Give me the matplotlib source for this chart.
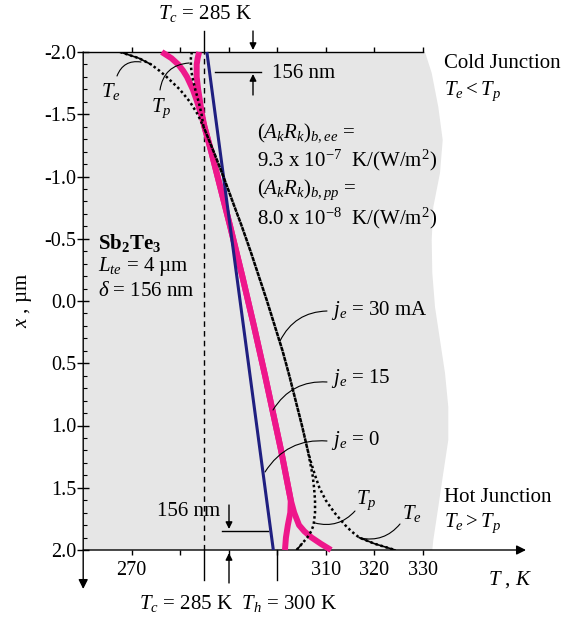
import matplotlib
matplotlib.use('Agg')
import matplotlib.pyplot as plt
import matplotlib.transforms as mtransforms
from matplotlib.patches import Polygon

# ---------------- data (x in um, T in K) ----------------
# j_e = 0 (Te = Tp)
x_j0 = [-2.0, 2.0]
T_j0 = [285.5, 299.2]

# j_e = 15 mA
x_top = [-2.0, -1.95, -1.9, -1.85, -1.8, -1.7, -1.6, -1.5]
T_te15_top = [276.2, 278.2, 279.6, 280.6, 281.4, 282.6, 283.5, 284.3]
T_tp15_top = [283.9, 283.6, 283.4, 283.4, 283.4, 283.7, 284.1, 284.5]
x_bulk15 = [-1.4, -1.2, -1.0, -0.8, -0.6, -0.4, -0.2, 0.0, 0.2, 0.4, 0.6,
            0.8, 1.0, 1.2, 1.4, 1.5, 1.6]
T_bulk15 = [285.0, 286.4, 287.7, 289.0, 290.3, 291.55, 292.8, 294.0, 295.2,
            296.35, 297.5, 298.6, 299.7, 300.8, 301.8, 302.3, 302.8]
x_te15_bot = [1.7, 1.8, 1.85, 1.9, 1.95, 2.0]
T_te15_bot = [303.5, 304.5, 305.6, 307.1, 309.0, 311.1]
x_tp15_bot = [1.7, 1.8, 1.9, 2.0]
T_tp15_bot = [302.7, 302.2, 301.8, 301.6]

# j_e = 30 mA
T_te30_top = [267.6, 271.5, 274.0, 275.7, 277.2, 279.9, 282.0, 283.6]
T_tp30_top = [282.4, 282.2, 282.2, 282.3, 282.5, 283.1, 283.8, 284.4]
x_bulk30 = [-1.4, -1.2, -1.0, -0.8, -0.6, -0.4, -0.2, 0.0, 0.2, 0.4, 0.6,
            0.8, 1.0, 1.2]
T_bulk30 = [284.8, 286.9, 288.9, 290.8, 292.7, 294.5, 296.2, 297.9, 299.5,
            301.1, 302.5, 303.8, 305.1, 306.3]
x_bot30 = [1.3, 1.4, 1.5, 1.6, 1.7, 1.8, 1.85, 1.9, 1.95, 2.0]
T_te30_bot = [307.0, 307.8, 308.7, 310.0, 311.8, 314.0, 315.3, 316.9, 320.1, 324.3]
T_tp30_bot = [306.8, 307.3, 307.6, 307.8, 307.8, 307.5, 307.0, 306.2, 305.1, 304.0]

T_c = 285
T_h = 300
x_ticks = [270, 280, 290, 300, 310, 320, 330]
x_ticklabels = ['270', '', '', '', '310', '320', '330']
y_ticks = [-2.0, -1.5, -1.0, -0.5, 0.0, 0.5, 1.0, 1.5, 2.0]
y_ticklabels = ['-2.0', '-1.5', '-1.0', '-0.5', '0.0', '0.5', '1.0', '1.5', '2.0']

# full curves
x_te15 = x_top + x_bulk15 + x_te15_bot
T_te15 = T_te15_top + T_bulk15 + T_te15_bot
x_tp15 = x_top + x_bulk15 + x_tp15_bot
T_tp15 = T_tp15_top + T_bulk15 + T_tp15_bot
x_te30 = x_top + x_bulk30 + x_bot30
T_te30 = T_te30_top + T_bulk30 + T_te30_bot
x_tp30 = x_top + x_bulk30 + x_bot30
T_tp30 = T_tp30_top + T_bulk30 + T_tp30_bot

# ---------------- style ----------------
plt.rcParams['font.family'] = ['Liberation Serif', 'DejaVu Serif']
plt.rcParams['mathtext.fontset'] = 'custom'
plt.rcParams['mathtext.rm'] = 'Liberation Serif'
plt.rcParams['mathtext.it'] = 'Liberation Serif:italic'
plt.rcParams['mathtext.bf'] = 'Liberation Serif:bold'
plt.rcParams['axes.unicode_minus'] = False
FS = 15
TFS = 14.5

W, H = 578, 620
fig = plt.figure(figsize=(W / 100, H / 100), dpi=100)
fpx = mtransforms.Affine2D().scale(1.0 / W, 1.0 / H) + fig.transFigure

L, R, TOP, BOT = 83.2, 422.7, 52.0, 550.0
ax = fig.add_axes([L / W, (H - BOT) / H, (R - L) / W, (BOT - TOP) / H])
ax.patch.set_visible(False)
ax.set_xlim(260, 330)
ax.set_ylim(2, -2)

# grey panel with wavy right edge
edge = [(425, 52), (431.7, 73), (438.3, 107), (442.7, 140), (440, 173),
        (433.3, 207), (431.7, 240), (432.3, 273), (435, 307), (440, 340),
        (445, 373), (448.3, 407), (448.3, 440), (443.3, 473), (438.3, 507),
        (433.3, 540), (432.3, 550)]
pts = [(L, H - TOP)] + [(px, H - py) for px, py in edge] + [(L, H - BOT)]
fig.add_artist(Polygon(pts, closed=True, facecolor='#e6e6e6', edgecolor='none',
                       transform=fpx, zorder=-5))

# spines / ticks
ax.spines['right'].set_visible(False)
ax.spines['bottom'].set_visible(False)
ax.spines['left'].set_visible(False)
ax.spines['top'].set_linewidth(1.0)
ax.set_xticks(x_ticks)
ax.set_xticklabels(x_ticklabels, fontsize=TFS)
ax.tick_params(axis='x', which='major', direction='out', length=3.3, width=1.0,
               top=True, bottom=True, pad=4.5)
ax.set_yticks(y_ticks)
ax.set_yticklabels(y_ticklabels, fontsize=TFS)
ax.set_yticks([v / 10 for v in range(-20, 21)], minor=True)
ax.tick_params(axis='y', which='major', direction='inout', length=8.5, width=1.0, pad=0.6)
ax.tick_params(axis='y', which='minor', direction='in', length=3.0, width=0.8)

# axis arrows
arrow_kw = dict(arrowstyle='-|>', lw=1.0, color='black', shrinkA=0, shrinkB=0,
                mutation_scale=14)
ax.annotate('', xy=(526, H - BOT), xytext=(L, H - BOT), xycoords=fpx, textcoords=fpx,
            arrowprops=arrow_kw, annotation_clip=False)
ax.annotate('', xy=(L, H - 589), xytext=(L, H - TOP), xycoords=fpx, textcoords=fpx,
            arrowprops=arrow_kw, annotation_clip=False)

# Tc / Th reference lines
xt = ax.get_xaxis_transform()
ax.axvline(T_c, color='black', lw=1.0, ls=(0, (4, 3)), zorder=1)
ax.plot([T_c, T_c], [1.0, 1.0 + 21 / 498], transform=xt, color='black', lw=1.0, clip_on=False)
ax.plot([T_c, T_c], [0.0, -30 / 498], transform=xt, color='black', lw=1.0, clip_on=False)
ax.plot([T_h, T_h], [0.0, -30 / 498], transform=xt, color='black', lw=1.0, clip_on=False)

# curves
mag = '#ee178b'
navy = '#1f1f80'
ax.plot(T_te15, x_te15, color=mag, lw=4.3, solid_capstyle='butt', zorder=3, clip_on=False)
ax.plot(T_tp15, x_tp15, color=mag, lw=4.3, solid_capstyle='butt', zorder=3, clip_on=False)
ax.plot(T_j0, x_j0, color=navy, lw=2.2, solid_capstyle='butt', zorder=4, clip_on=False)
dot = (0, (1, 1.1))
ax.plot(T_te30, x_te30, color='black', lw=1.8, ls=dot, zorder=5)
ax.plot(T_tp30, x_tp30, color='black', lw=1.8, ls=dot, zorder=5)
ax.plot(T_te30[:3], x_te30[:3], color='black', lw=1.2, zorder=5)
ax.plot(T_te30[-3:], x_te30[-3:], color='black', lw=1.2, zorder=5)
ax.plot(T_tp30[-2:], x_tp30[-2:], color='black', lw=1.2, zorder=5)


def ftext(px, py, s, **kw):
    kw.setdefault('fontsize', FS)
    kw.setdefault('va', 'center')
    fig.text(px / W, 1 - py / H, s, **kw)


def pointer(a, b, rad):
    ax.annotate('', xy=(b[0], H - b[1]), xytext=(a[0], H - a[1]), xycoords=fpx,
                textcoords=fpx, annotation_clip=False,
                arrowprops=dict(arrowstyle='-', lw=0.8, color='black', shrinkA=0,
                                shrinkB=0, connectionstyle='arc3,rad=%g' % rad))


def arrow(a, b):
    ax.annotate('', xy=(b[0], H - b[1]), xytext=(a[0], H - a[1]), xycoords=fpx,
                textcoords=fpx, annotation_clip=False,
                arrowprops=dict(arrowstyle='-|>', lw=1.0, color='black', shrinkA=0,
                                shrinkB=0, mutation_scale=10))


def hline(x0, x1, y):
    fig.add_artist(plt.Line2D([x0, x1], [H - y, H - y], transform=fpx, color='black', lw=1.0))


# 156 nm markers
arrow((253, 31), (253, 50))
arrow((253, 95), (253, 74))
hline(215, 261, 72)
ftext(272, 74, '156 nm')
arrow((229, 505), (229, 529))
arrow((229, 583), (229, 553))
hline(222, 268, 531)
ftext(220, 512, '156 nm', ha='right')

# labels
ftext(205, 14, r'$T_c$ = 285 K', ha='center')
ftext(139, 604, r'$T_c$ = 285 K  $T_h$ = 300 K')
ftext(488, 580, r'$T$ , $K$')
ftext(24, 300, r'$x$ , µm', rotation=90, ha='center')
ftext(444, 64, 'Cold Junction')
ftext(444, 91, r'$T_e < T_p$')
ftext(444, 498, 'Hot Junction')
ftext(444, 523, r'$T_e > T_p$')
ftext(257, 133, r'$(A_kR_k)_{b,ee}$ =')
ftext(257, 160, r'9.3 x 10$^{-7}$  K/(W/m$^2$)')
ftext(257, 190, r'$(A_kR_k)_{b,pp}$ =')
ftext(257, 218, r'8.0 x 10$^{-8}$  K/(W/m$^2$)')
ftext(98, 243, r'$\mathbf{Sb}_\mathbf{2}\mathbf{Te}_\mathbf{3}$')
ftext(98, 267, r'$L_{te}$ = 4 µm')
ftext(98, 292, r'$\delta$ = 156 nm')

ftext(101, 91, r'$T_e$')
pointer((117, 76), (141, 62), -0.4)
ftext(151, 108, r'$T_p$')
pointer((160, 90), (189, 63), -0.4)

ftext(331, 311, r'$j_e$ = 30 mA')
pointer((327, 311), (280, 341), 0.3)
ftext(331, 379, r'$j_e$ = 15')
pointer((327, 382), (273, 410), 0.3)
ftext(331, 440, r'$j_e$ = 0')
pointer((327, 441), (265, 472), 0.3)
ftext(356, 500, r'$T_p$')
pointer((355, 511), (315, 523), -0.3)
ftext(402, 514, r'$T_e$')
pointer((400, 524), (360, 538), -0.3)

fig.savefig('out.png', dpi=100)
